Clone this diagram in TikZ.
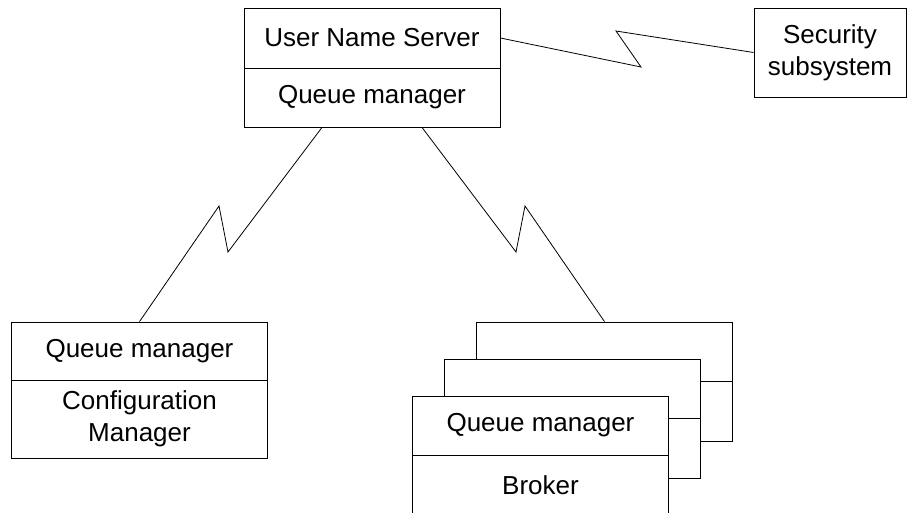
\documentclass[tikz,border=0pt]{standalone}
\usepackage{fontspec}
\setmainfont{Liberation Sans}
\begin{document}
\begin{tikzpicture}[x=1pt, y=-1pt,
  every node/.style={font=\fontsize{26}{32}\selectfont},
  part/.style={draw, line width=0.8pt, fill=white, inner sep=0pt, align=center},
  link/.style={line width=0.8pt, line join=miter}]
  \def\W{256} % width of a box
  \def\D{32}  % offset of the stacked brokers

  \clip (0,0) rectangle (907,512);

  % user name server on top of its queue manager
  \node[part, minimum width=\W, minimum height=60] (uns) at (372,38) {User Name Server};
  \node[part, minimum width=\W, minimum height=59] (unsqm) at (372,97.5) {Queue manager};

  % security subsystem
  \node[part, minimum width=152, minimum height=89] (sec) at (830,52.5) {Security\\subsystem};

  % configuration manager
  \node[part, minimum width=\W, minimum height=58] (cfgqm) at (139.5,351) {Queue manager};
  \node[part, minimum width=\W, minimum height=78] (cfg) at (139.5,419) {Configuration\\Manager};

  % stack of brokers, back to front
  \node[part, minimum width=\W, minimum height=59] (bkqmA) at (604.5,351.5) {};
  \node[part, minimum width=\W, minimum height=60] (bkA) at (604.5,411) {};
  \node[part, minimum width=\W, minimum height=59] (bkqmB) at (604.5-\D,388.5) {};
  \node[part, minimum width=\W, minimum height=60] (bkB) at (604.5-\D,448) {};
  \node[part, minimum width=\W, minimum height=59] (brkqm) at (540.5,425.5) {Queue manager};
  \node[part, minimum width=\W, minimum height=60] (brk) at (540.5,485) {Broker};

  % lightning links
  \coordinate (s1) at (641,67);
  \coordinate (s2) at (616,31);
  \draw[link] (uns.east) -- (s1) -- (s2) -- (sec.west);

  \coordinate (c0) at ([xshift=-50pt]unsqm.south);
  \coordinate (c1) at (228,252);
  \coordinate (c2) at (219,206);
  \draw[link] (c0) -- (c1) -- (c2) -- (cfgqm.north);

  \coordinate (b0) at ([xshift=50pt]unsqm.south);
  \coordinate (b1) at (516,252);
  \coordinate (b2) at (525,206);
  \draw[link] (b0) -- (b1) -- (b2) -- (bkqmA.north);

\end{tikzpicture}
\end{document}
